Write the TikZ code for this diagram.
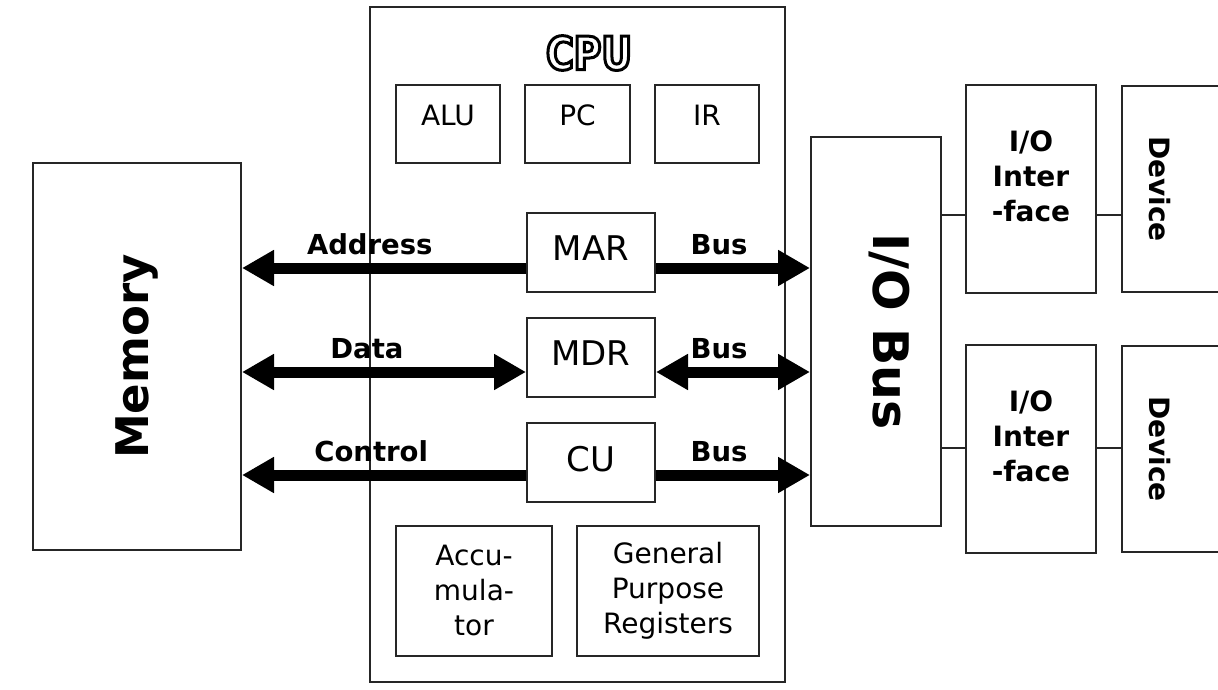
\documentclass[tikz,border=0pt]{standalone}
\usepackage{fontspec}
\setmainfont{DejaVu Sans}
\newfontfamily\cpufont[FakeStretch=0.82]{DejaVu Sans}
\usepackage{graphicx}
\usetikzlibrary{arrows.meta}
\newcommand\hollow[1]{\special{pdf:literal direct 1 Tr 3 w}#1\special{pdf:literal direct 0 Tr}}

\begin{document}
\begin{tikzpicture}[x=1pt,y=-1pt,
  every node/.style={inner sep=0pt},
  box/.style={draw=black!85,line width=2pt,align=center,font=\fontsize{28}{35}\selectfont},
  reg/.style={box,font=\fontsize{34}{40}\selectfont,minimum width=128pt,minimum height=79pt,text depth=8pt},
  iobox/.style={box,font=\bfseries\fontsize{28}{35}\selectfont,minimum width=130pt,minimum height=208pt,text depth=26pt},
  lbl/.style={font=\bfseries\fontsize{27.5}{33}\selectfont,anchor=base,yshift=14pt},
  bus/.style={line width=11pt,>={Triangle[length=32pt,width=34pt]}},
  wire/.style={draw=black!85,line width=2pt}]
  \useasboundingbox (0,0) rectangle (1218,690);
  \clip (0,0) rectangle (1218,690);
  % CPU and its registers
  \node[box,minimum width=415pt,minimum height=675pt] (cpu) at (577.5,344.5) {};
  \node[font=\cpufont\bfseries\fontsize{46}{46}\selectfont] (cpuname) at (589,53) {\hollow{CPU}};
  \node[box,minimum width=104pt,minimum height=78pt,text depth=18pt] (alu) at (448,124) {ALU};
  \node[box,minimum width=105pt,minimum height=78pt,text depth=18pt] (pc) at (577.5,124) {PC};
  \node[box,minimum width=104pt,minimum height=78pt,text depth=18pt] (ir) at (707,124) {IR};
  \node[reg] (mar) at (591,252.5) {MAR};
  \node[reg] (mdr) at (591,357.5) {MDR};
  \node[reg] (cu) at (591,462.5) {CU};
  \node[box,minimum width=156pt,minimum height=130pt] (acc) at (474,590.5) {Accu-\\mula-\\tor};
  \node[box,minimum width=182pt,minimum height=130pt] (gpr) at (668,590.5) {General\\Purpose\\Registers};
  % memory, I/O bus, interfaces, devices
  \node[box,font=\bfseries\fontsize{45}{45}\selectfont,minimum width=208pt,minimum height=387pt] (mem) at (137,356.5) {\rotatebox{90}{Memory}};
  \node[box,font=\bfseries\fontsize{49}{49}\selectfont,minimum width=130pt,minimum height=389pt] (iobus) at (876,331.5) {\hspace{26pt}\rotatebox{-90}{I/O Bus}};
  \node[iobox] (if1) at (1031,189) {I/O\\Inter\\-face};
  \node[iobox] (if2) at (1031,449) {I/O\\Inter\\-face};
  \node[box,minimum width=118pt,minimum height=206pt] (dev1) at (1181,189) {};
  \node[box,minimum width=118pt,minimum height=206pt] (dev2) at (1181,449) {};
  \node[font=\bfseries\fontsize{28}{28}\selectfont] (dev1txt) at (1160,189) {\rotatebox{-90}{Device}};
  \node[font=\bfseries\fontsize{28}{28}\selectfont] (dev2txt) at (1160,449) {\rotatebox{-90}{Device}};
  % buses
  \draw[bus,->] (mar.west |- 0,268) -- node[lbl,pos=.55]{Address} (mem.east |- 0,268);
  \draw[bus,->] (mar.east |- 0,268) -- node[lbl,pos=.41]{Bus} (iobus.west |- 0,268);
  \draw[bus,<->] (mem.east |- 0,372) -- node[lbl,pos=.44]{Data} (mdr.west |- 0,372);
  \draw[bus,<->] (mdr.east |- 0,372) -- node[lbl,pos=.41]{Bus} (iobus.west |- 0,372);
  \draw[bus,->] (cu.west |- 0,475) -- node[lbl,pos=.545]{Control} (mem.east |- 0,475);
  \draw[bus,->] (cu.east |- 0,475) -- node[lbl,pos=.41]{Bus} (iobus.west |- 0,475);
  % links to the devices
  \draw[wire] (iobus.east |- 0,215) -- (if1.west |- 0,215);
  \draw[wire] (if1.east |- 0,215) -- (dev1.west |- 0,215);
  \draw[wire] (iobus.east |- 0,448) -- (if2.west |- 0,448);
  \draw[wire] (if2.east |- 0,448) -- (dev2.west |- 0,448);
\end{tikzpicture}
\end{document}
